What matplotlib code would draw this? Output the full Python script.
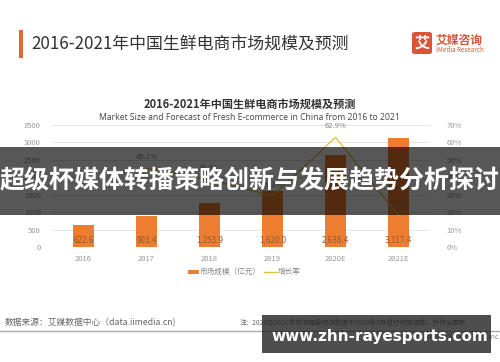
import matplotlib
matplotlib.use("Agg")
import matplotlib.pyplot as plt
from matplotlib.patches import Rectangle, FancyBboxPatch

plt.rcParams['font.family'] = ['Noto Sans CJK SC', 'DejaVu Sans']

years = ["2016", "2017", "2018", "2019", "2020E", "2021E"]
market = [622.6, 903.4, 1253.9, 1620.0, 2638.4, 3117.4]
growth = [None, 45.1, 38.8, 29.2, 62.9, 18.2]
left_ticks = [0, 500, 1000, 1500, 2000, 2500, 3000, 3500]
right_ticks = [0, 10, 20, 30, 40, 50, 60, 70]

W, H = 500, 362
fig = plt.figure(figsize=(5, 3.62), dpi=100)
fig.patch.set_facecolor("white")

def fx(x):
    return x / W

def fy(y):
    return 1 - y / H

# header
fig.patches.append(Rectangle((fx(19), fy(58)), 4 / W, 28 / H, transform=fig.transFigure,
                             facecolor="#E2673D", edgecolor="none"))
fig.text(fx(31), fy(44), "2016-2021年中国生鲜电商市场规模及预测", fontsize=12.2,
         color="#333333", va="center", ha="left")
fig.patches.append(FancyBboxPatch((fx(412), fy(54)), 20 / W, 22 / H, transform=fig.transFigure,
                                  boxstyle="round,pad=0,rounding_size=0.006",
                                  facecolor="#D9553A", edgecolor="none"))
fig.text(fx(422), fy(43), "艾", fontsize=11, color="white", fontweight="bold",
         ha="center", va="center")
fig.text(fx(436), fy(40), "艾媒咨询", fontsize=8.5, color="#D9553A", fontweight="bold",
         ha="left", va="center")
fig.text(fx(436), fy(50), "iMedia Research", fontsize=4.5, color="#D9553A",
         ha="left", va="center")

# chart titles
fig.text(fx(250), fy(104), "2016-2021年中国生鲜电商市场规模及预测", fontsize=8,
         fontweight="bold", color="#333333", ha="center", va="center")
fig.text(fx(249), fy(117), "Market Size and Forecast of Fresh E-commerce in China from 2016 to 2021",
         fontsize=6.2, color="#444444", ha="center", va="center", family="Open Sans")

ax = fig.add_axes([fx(52), fy(247), (430 - 52) / W, (247 - 125) / H])
x = list(range(len(years)))
ax.bar(x, market, width=0.32, color="#ED7D31", zorder=2)
ax.set_xlim(-0.5, len(years) - 0.5)
ax.set_ylim(0, 3500)
ax.set_yticks(left_ticks)
ax.set_xticks(x)
ax.set_xticklabels(years)
ax.tick_params(axis="both", length=0, labelsize=5.5, labelcolor="#999999")
ax.tick_params(axis="x", pad=6)
ax.tick_params(axis="y", pad=8)
ax.grid(axis="y", color="#E6E6E6", linewidth=0.7, zorder=0)
for s in ax.spines.values():
    s.set_visible(False)
for i, v in enumerate(market):
    ax.text(i, 200, f"{v:,.1f}", fontsize=5.8, color="#9A5A2A", ha="center", va="center", zorder=3)

ax2 = ax.twinx()
gx = [i for i, g in enumerate(growth) if g is not None]
gy = [g for g in growth if g is not None]
ax2.plot(gx, gy, color="#E2C23C", linewidth=0.9, zorder=4)
ax2.set_ylim(0, 70)
ax2.set_yticks(right_ticks)
ax2.set_yticklabels([f"{t}%" for t in right_ticks])
ax2.tick_params(axis="y", length=0, labelsize=5.5, labelcolor="#999999", pad=12)
for s in ax2.spines.values():
    s.set_visible(False)
for i, g in zip(gx, gy):
    ax2.annotate(f"{g}%", (i, g), xytext=(0, 5), textcoords="offset points",
                 fontsize=5.5, color="#888888", ha="center", va="bottom")

# legend
fig.patches.append(Rectangle((fx(188), fy(274)), 11 / W, 4 / H, transform=fig.transFigure,
                             facecolor="#ED7D31", edgecolor="none"))
fig.text(fx(200), fy(272), "市场规模（亿元）", fontsize=5.5, color="#888888", ha="left", va="center")
fig.lines.append(plt.Line2D([fx(264), fx(277)], [fy(272), fy(272)], transform=fig.transFigure,
                            color="#E2C23C", linewidth=1.0))
fig.text(fx(278), fy(272), "增长率", fontsize=5.5, color="#888888", ha="left", va="center")

# footer
fig.text(fx(5), fy(323), "数据来源：艾媒数据中心（data.iimedia.cn)", fontsize=6.3,
         color="#666666", ha="left", va="center")
fig.text(fx(240), fy(323), "注：2020及2021年市场规模预测数据于2020年3月进行校验调整，并作出更新",
         fontsize=4.8, color="#666666", ha="left", va="center")
fig.lines.append(plt.Line2D([0, fx(500)], [fy(331), fy(331)], transform=fig.transFigure,
                            color="#AAAAAA", linewidth=1.0))
fig.text(fx(498), fy(337), "©2020 iiMedia Research Inc", fontsize=5, color="#888888",
         ha="right", va="center")

# overlay banner
fig.patches.append(Rectangle((0, fy(215)), 1, 68 / H, transform=fig.transFigure,
                             facecolor="black", alpha=0.66, edgecolor="none", zorder=10))
fig.text(fx(250), fy(181), "超级杯媒体转播策略创新与发展趋势分析探讨", fontsize=18,
         fontweight="bold", color="white", ha="center", va="center", zorder=11)

# watermark
fig.patches.append(Rectangle((fx(262), fy(353)), (491 - 262) / W, 38 / H, transform=fig.transFigure,
                             facecolor="#222222", alpha=0.8, edgecolor="none", zorder=10))
fig.text(fx(380), fy(336), "www.zhn-rayesports.com", fontsize=11, fontweight="bold",
         color="white", ha="center", va="center", family="DejaVu Sans", zorder=11)

fig.savefig("out.png", dpi=100)
